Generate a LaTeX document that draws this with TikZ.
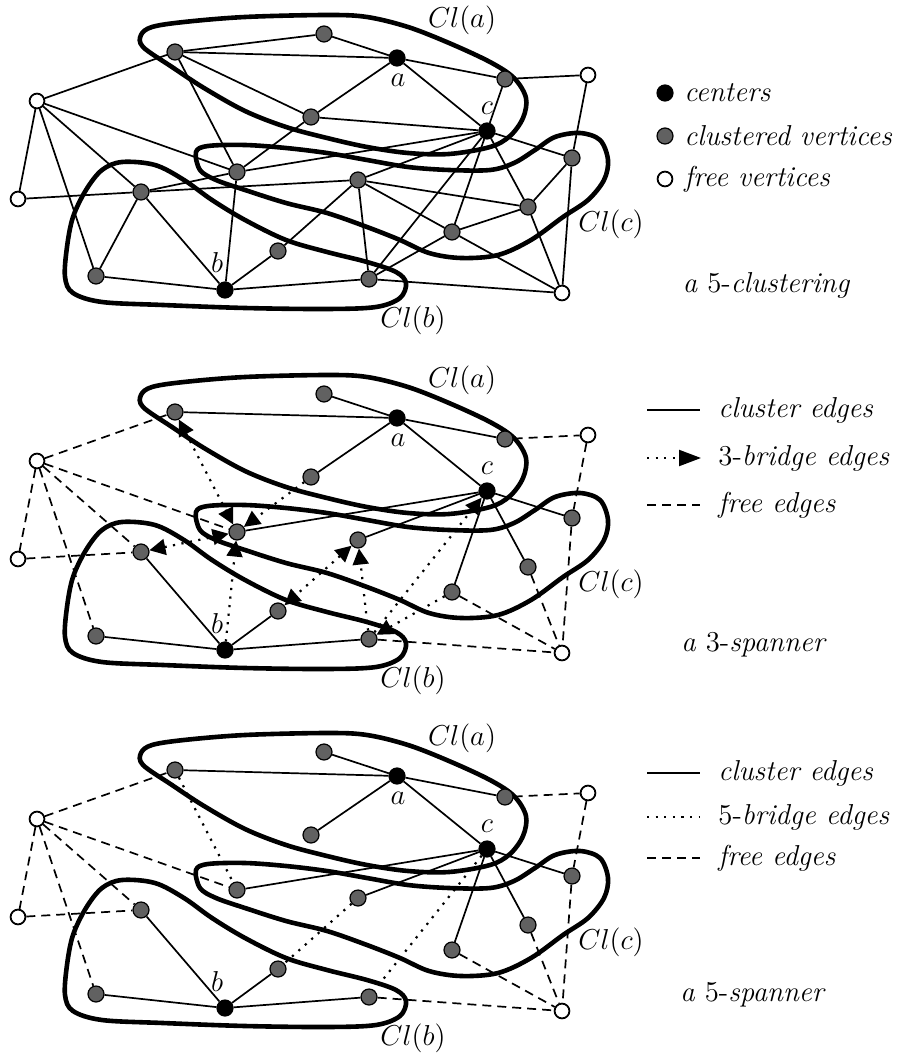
\documentclass[tikz,border=0pt]{standalone}
\usepackage{fontspec}
\usetikzlibrary{arrows.meta}
\pgfdeclarelayer{edgelayer}
\pgfdeclarelayer{hulllayer}
\pgfsetlayers{edgelayer,hulllayer,main}
\tikzset{
  vtx/.style={circle,inner sep=0pt,minimum size=8pt,line width=0.6pt,draw=black},
  cen/.style={vtx,fill=black},
  clu/.style={vtx,fill=black!62},
  fre/.style={vtx,fill=white,line width=0.9pt,minimum size=7.4pt},
  ce/.style={line width=0.85pt},
  fe/.style={line width=0.85pt,dash pattern=on 4.5pt off 3pt},
  be/.style={line width=1.1pt,dash pattern=on 1.1pt off 3.2pt},
  tp/.style={-{Triangle[length=8pt,width=8pt]}},
  tt/.style={{Triangle[length=8pt,width=8pt]}-{Triangle[length=8pt,width=8pt]}},
  hull/.style={line width=2.3pt,line join=round},
  lab/.style={font=\Large,inner sep=1pt},
  leg/.style={font=\Large,anchor=west,inner sep=0pt},
}
\newcommand\vset[1]{%
  \node[clu] (#1p) at (175,52) {};
  \node[clu] (#1q) at (324,34) {};
  \node[cen] (#1a) at (397,58) {};
  \node[clu] (#1r) at (505,79) {};
  \node[fre] (#1f1) at (588,75) {};
  \node[fre] (#1f2) at (37,101) {};
  \node[clu] (#1s) at (311,117) {};
  \node[cen] (#1c) at (487,131) {};
  \node[clu] (#1u) at (237,172) {};
  \node[clu] (#1v) at (572,158) {};
  \node[clu] (#1x) at (358,180) {};
  \node[clu] (#1l) at (141,192) {};
  \node[fre] (#1f3) at (18,199) {};
  \node[clu] (#1w) at (528,207) {};
  \node[clu] (#1y) at (452,232) {};
  \node[clu] (#1g) at (278,251) {};
  \node[clu] (#1d) at (96,276) {};
  \node[cen] (#1b) at (225,290) {};
  \node[clu] (#1z) at (369,279) {};
  \node[fre] (#1f4) at (562,293) {};
  \node[lab] (#1la) at (398,80) {$a$};
  \node[lab] (#1lc) at (487,108) {$c$};
  \node[lab] (#1lb) at (217,263) {$b$};
  \node[lab] (#1Ca) at (462,20) {$Cl(a)$};
  \node[lab] (#1Cc) at (611,224) {$Cl(c)$};
  \node[lab] (#1Cb) at (413,320) {$Cl(b)$};
}
\newcommand\hullset{%
  \draw[hull] plot[smooth cycle,tension=0.55] coordinates {(143,47) (141,35) (152,27) (184,22) (245,17) (327,15) (367,17) (408,27) (449,43) (490,62) (514,78) (526,98) (523,118) (510,136) (490,147) (449,154) (408,153) (367,147) (327,138) (286,127) (245,111) (204,88) (172,67)};
  \draw[hull] plot[smooth cycle,tension=0.55] coordinates {(196,152) (208,146) (245,145) (286,148) (327,153) (367,160) (408,167) (449,170) (490,170) (514,163) (535,150) (555,137) (580,133) (600,140) (608,160) (604,180) (588,200) (563,217) (531,240) (498,255) (461,258) (429,253) (400,240) (367,227) (327,213) (286,203) (245,190) (216,180) (200,170)};
  \draw[hull] plot[smooth cycle,tension=0.55] coordinates {(122,162) (102,170) (86,190) (73,217) (67,247) (65,277) (73,293) (102,302) (163,305) (245,308) (327,309) (376,307) (400,298) (406,283) (396,272) (367,262) (327,252) (286,240) (245,220) (212,200) (184,180) (155,165)};
}
\begin{document}
\begin{tikzpicture}[x=0.5pt,y=-0.5pt]
\useasboundingbox (0,0) rectangle (902,1053);
\vset{T}
\begin{scope}[shift={(0,360)}]\vset{M}\end{scope}
\begin{scope}[shift={(0,718)}]\vset{B}\end{scope}
\begin{pgfonlayer}{hulllayer}
  \hullset
  \begin{scope}[shift={(0,360)}]\hullset\end{scope}
  \begin{scope}[shift={(0,718)}]\hullset\end{scope}
\end{pgfonlayer}
\begin{pgfonlayer}{edgelayer}
  \foreach \s/\t in {p/q,q/a,p/a,a/r,r/f1,f1/v,v/f4,p/s,p/u,a/s,s/u,s/c,a/c,r/c,c/v,c/u,c/x,c/y,c/z,c/w,v/w,w/y,x/w,x/y,x/z,x/g,g/b,y/z,y/f4,z/f4,b/z,b/d,d/l,l/b,u/b,f2/d,f2/l,f2/u,f2/p,f2/f3,f3/l,l/x,l/u,w/f4}
    \draw[ce] (T\s) -- (T\t);
  \foreach \P in {M,B}{
    \foreach \s/\t in {p/a,q/a,a/r,a/s,a/c,c/u,c/x,c/v,c/y,c/w,l/b,d/b,b/g,b/z}
      \draw[ce] (\P\s) -- (\P\t);
    \foreach \s/\t in {f2/p,f2/f3,f2/d,f2/l,f2/u,f3/l,r/f1,f1/v,v/f4,y/f4,w/f4,z/f4}
      \draw[fe] (\P\s) -- (\P\t);
  }
  \foreach \s/\t in {p/u,l/u,x/g}
    \draw[be,tt] (M\s) -- (M\t);
  \foreach \s/\t in {s/u,b/u,z/x,y/z,z/c}
    \draw[be,tp] (M\s) -- (M\t);
  \foreach \s/\t in {p/u,x/g,c/z}
    \draw[be] (B\s) -- (B\t);
\end{pgfonlayer}
% ---------- legends ----------
\node[cen] (k1) at (665,93) {};
\node[leg] (k1t) at (684,93) {\itshape centers};
\node[clu] (k2) at (665,136) {};
\node[leg] (k2t) at (684,136) {\itshape clustered vertices};
\node[fre] (k3) at (665,179) {};
\node[leg] (k3t) at (684,179) {\itshape free vertices};
\node[lab] (cap1) at (766,285) {\itshape a \upshape 5-\itshape clustering};
%
\coordinate (m1s) at (647,410); \coordinate (m1e) at (700,410);
\draw[ce] (m1s) -- (m1e);
\node[leg] (m1t) at (718,410) {\itshape cluster edges};
\coordinate (m2s) at (647,458); \coordinate (m2e) at (701,458);
\draw[be,-{Triangle[length=11pt,width=8pt]}] (m2s) -- (m2e);
\node[leg] (m2t) at (718,458) {3-\itshape bridge edges};
\coordinate (m3s) at (647,505); \coordinate (m3e) at (700,505);
\draw[fe] (m3s) -- (m3e);
\node[leg] (m3t) at (718,505) {\itshape free edges};
\node[lab] (cap2) at (753,645) {\itshape a \upshape 3-\itshape spanner};
%
\coordinate (b1s) at (647,773); \coordinate (b1e) at (700,773);
\draw[ce] (b1s) -- (b1e);
\node[leg] (b1t) at (718,773) {\itshape cluster edges};
\coordinate (b2s) at (647,817); \coordinate (b2e) at (700,817);
\draw[be] (b2s) -- (b2e);
\node[leg] (b2t) at (718,817) {5-\itshape bridge edges};
\coordinate (b3s) at (647,858); \coordinate (b3e) at (700,858);
\draw[fe] (b3s) -- (b3e);
\node[leg] (b3t) at (718,858) {\itshape free edges};
\node[lab] (cap3) at (752,995) {\itshape a \upshape 5-\itshape spanner};
\end{tikzpicture}
\end{document}
